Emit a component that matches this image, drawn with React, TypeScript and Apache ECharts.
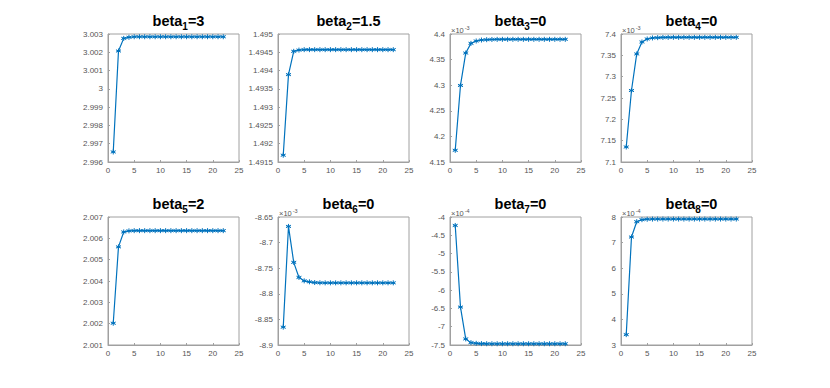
import React, { useEffect, useRef } from "react";
import * as echarts from "echarts";

const iterations = [1,2,3,4,5,6,7,8,9,10,11,12,13,14,15,16,17,18,19,20,21,22];

const beta1 = [2.99655,3.00207,3.00276,3.00282,3.00285,3.00285,3.00285,3.00285,3.00285,3.00285,3.00285,3.00285,3.00285,3.00285,3.00285,3.00285,3.00285,3.00285,3.00285,3.00285,3.00285,3.00285];
const beta2 = [1.491685,1.49389,1.494526,1.49456,1.494572,1.494572,1.494572,1.494572,1.494572,1.494572,1.494572,1.494572,1.494572,1.494572,1.494572,1.494572,1.494572,1.494572,1.494572,1.494572,1.494572,1.494572];
// x 1e-3
const beta3 = [4.1728,4.2995,4.3628,4.3817,4.3863,4.3882,4.3889,4.3893,4.3895,4.3896,4.3896,4.3896,4.3896,4.3896,4.3896,4.3896,4.3896,4.3896,4.3896,4.3896,4.3896,4.3896];
// x 1e-3
const beta4 = [7.1352,7.2676,7.3533,7.3813,7.3883,7.3907,7.3914,7.3919,7.3921,7.3922,7.3922,7.3922,7.3922,7.3922,7.3922,7.3922,7.3922,7.3922,7.3922,7.3922,7.3922,7.3922];
const beta5 = [2.00202,2.0056,2.0063,2.00635,2.00636,2.00636,2.00636,2.00636,2.00636,2.00636,2.00636,2.00636,2.00636,2.00636,2.00636,2.00636,2.00636,2.00636,2.00636,2.00636,2.00636,2.00636];
// x 1e-3
const beta6 = [-8.8652,-8.6684,-8.7386,-8.7681,-8.7747,-8.7766,-8.778,-8.7784,-8.7786,-8.7786,-8.7786,-8.7786,-8.7786,-8.7786,-8.7786,-8.7786,-8.7786,-8.7786,-8.7786,-8.7786,-8.7786,-8.7786];
// x 1e-4
const beta7 = [-4.2315,-6.463,-7.333,-7.435,-7.454,-7.462,-7.465,-7.466,-7.466,-7.466,-7.466,-7.466,-7.466,-7.466,-7.466,-7.466,-7.466,-7.466,-7.466,-7.466,-7.466,-7.466];
// x 1e-4
const beta8 = [3.405,7.217,7.817,7.896,7.912,7.918,7.92,7.92,7.92,7.92,7.92,7.92,7.92,7.92,7.92,7.92,7.92,7.92,7.92,7.92,7.92,7.92];

const titleIdx = ["1","2","3","4","5","6","7","8"];
const titleVal = ["3","1.5","0","0","2","0","0","0"];
const exponents = ["", "", "-3", "-3", "", "-3", "-4", "-4"];
const yMins = [2.996, 1.4915, 4.15, 7.1, 2.001, -8.9, -7.5, 3];
const yMaxs = [3.003, 1.495, 4.4, 7.4, 2.007, -8.65, -4, 8];
const yIntervals = [0.001, 0.0005, 0.05, 0.05, 0.001, 0.05, 0.5, 1];
const xTicks = { min: 0, max: 25, interval: 5 };

const allSeries = [beta1, beta2, beta3, beta4, beta5, beta6, beta7, beta8];

const COL_LEFTS = [108, 278, 450, 621];
const ROW_TOPS = [34, 217];
const GW = 131;
const GH = 128;
const LINE = "#0072BD";
const AXIS = "#a0a0a0";
const LABEL = "#555555";
const FONT = "'Liberation Sans', Arial, Helvetica, sans-serif";
const STAR = "path://M0,-1L0,1M-0.87,-0.5L0.87,0.5M-0.87,0.5L0.87,-0.5M-0.6,0L0.6,0";

export default function App() {
  const ref = useRef<HTMLDivElement>(null);
  useEffect(() => {
    if (!ref.current) return;
    const chart = echarts.init(ref.current, undefined, { renderer: "svg" });
    const grids: any[] = [];
    const xAxes: any[] = [];
    const yAxes: any[] = [];
    const series: any[] = [];
    const titles: any[] = [];
    const graphics: any[] = [];
    allSeries.forEach((data, i) => {
      const r = Math.floor(i / 4);
      const c = i % 4;
      const left = COL_LEFTS[c];
      const top = ROW_TOPS[r];
      grids.push({ left, top, width: GW, height: GH, show: true, borderColor: AXIS, borderWidth: 1, backgroundColor: "#fff" });
      xAxes.push({
        type: "value", gridIndex: i, min: xTicks.min, max: xTicks.max, interval: xTicks.interval,
        axisLine: { show: true, lineStyle: { color: AXIS, width: 1 } },
        axisTick: { show: true, inside: true, length: 2, lineStyle: { color: AXIS } },
        splitLine: { show: false },
        axisLabel: { color: LABEL, fontSize: 8, fontFamily: FONT, margin: 4 },
      });
      const interval = yIntervals[i];
      yAxes.push({
        type: "value", gridIndex: i, min: yMins[i], max: yMaxs[i], interval,
        axisLine: { show: true, lineStyle: { color: AXIS, width: 1 } },
        axisTick: { show: true, inside: true, length: 2, lineStyle: { color: AXIS } },
        splitLine: { show: false },
        axisLabel: {
          color: LABEL, fontSize: 8, fontFamily: FONT, margin: 5,
          formatter: (v: number) => String(parseFloat(v.toFixed(6))),
        },
      });
      series.push({
        type: "line", xAxisIndex: i, yAxisIndex: i,
        data: iterations.map((x, k) => [x, data[k]]),
        symbol: STAR, symbolSize: 5, showSymbol: true,
        lineStyle: { color: LINE, width: 1.2 },
        itemStyle: { color: LINE, borderColor: LINE, borderWidth: 1 },
      });
      titles.push({
        text: `{b|beta}{s|${titleIdx[i]}}{b|=${titleVal[i]}}`,
        left: left + GW / 2, top: r === 0 ? 6 : 189, textAlign: "center",
        textStyle: {
          rich: {
            b: { fontSize: 14.5, fontWeight: "bold", color: "#000", fontFamily: FONT, lineHeight: 17 },
            s: { fontSize: 10, fontWeight: "bold", color: "#000", fontFamily: FONT, padding: [10, 0, 0, 0] },
          },
        },
      });
      if (exponents[i]) {
        graphics.push({
          type: "text", left: left + 1, top: top - 9,
          style: {
            text: `{a|×10}{e|${exponents[i]}}`,
            rich: {
              a: { fontSize: 7.5, fill: LABEL, fontFamily: FONT },
              e: { fontSize: 5.5, fill: LABEL, fontFamily: FONT, padding: [0, 0, 4, 1] },
            },
          },
        });
      }
    });
    chart.setOption({
      animation: false,
      backgroundColor: "#fff",
      title: titles,
      grid: grids,
      xAxis: xAxes,
      yAxis: yAxes,
      series,
      graphic: graphics,
    });
    return () => chart.dispose();
  }, []);
  return <div ref={ref} style={{ position: "fixed", left: 0, top: 0, width: 830, height: 388 }} />;
}
